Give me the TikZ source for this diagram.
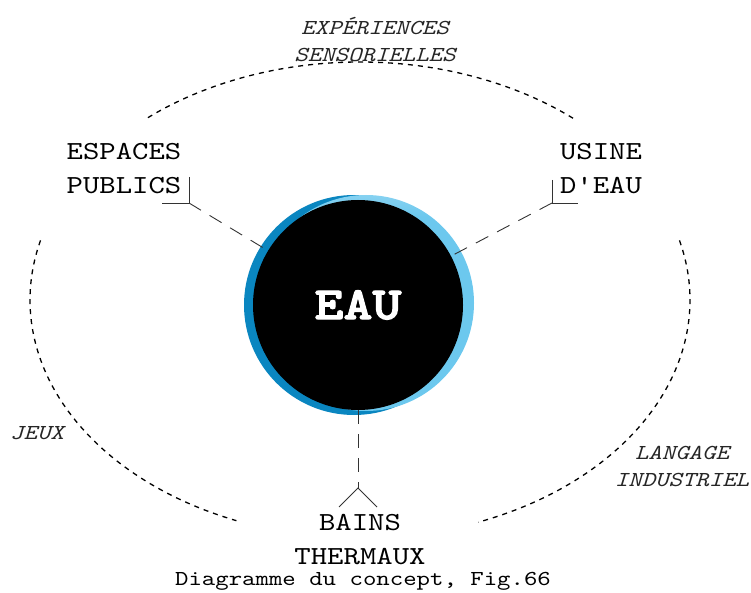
\documentclass[tikz,border=0pt]{standalone}
\usepackage{fontspec}
\newfontfamily\cour{lmmono10-regular}[Extension=.otf, ItalicFont=lmmono10-italic, FakeStretch=1.2]
\newfontfamily\courb{lmmonolt10-bold}[Extension=.otf, FakeStretch=1.2, FakeBold=2.5]
\definecolor{darkblue}{HTML}{0A86C0}
\definecolor{lbtop}{HTML}{D6EFFA}
\definecolor{lbbot}{HTML}{6CC8EE}
\definecolor{conn}{HTML}{333333}
\pgfdeclareverticalshading{lbsh}{100bp}{color(0bp)=(lbbot); color(70bp)=(lbbot); color(90bp)=(lbtop); color(100bp)=(lbtop)}
\tikzset{
  lbl/.style={align=center, inner sep=0, font=\cour\fontsize{26}{34}\selectfont},
  ilbl/.style={align=center, inner sep=0, font=\cour\itshape\fontsize{21.3}{27}\selectfont, text=black!85},
  caplbl/.style={align=center, inner sep=0, font=\cour\fontsize{21.3}{27}\selectfont},
  longdash/.style={draw=conn, line width=0.9pt, dash pattern=on 14pt off 10pt},
  brack/.style={draw=conn, line width=0.9pt},
  dotarc/.style={draw=black, line width=1.3pt, dash pattern=on 5pt off 5pt},
}
\begin{document}
\begin{tikzpicture}[x=1pt, y=-1pt]
\useasboundingbox (0,0) rectangle (751,593);
% dashed ellipse arcs
\draw[dotarc] plot[domain=230:311, samples=80, smooth] ({360+330*cos(\x)},{300+238*sin(\x)});
\draw[dotarc] plot[domain=194.5:112, samples=80, smooth] ({360+330*cos(\x)},{300+238*sin(\x)});
\draw[dotarc] plot[domain=-14.5:69, samples=80, smooth] ({360+330*cos(\x)},{300+238*sin(\x)});
% circles
\fill[darkblue] (354,305) circle[radius=110];
\shade[shading=lbsh] (366,303) circle[radius=108];
\node[circle, fill=black, minimum size=210pt, inner sep=0, text=white,
      font=\courb\fontsize{46}{55}\selectfont] (eau) at (358,305) {EAU};
% labels
\node[ilbl] (exp) at (375,40) {EXPÉRIENCES\\SENSORIELLES};
\node[lbl] (esp) at (124,169) {ESPACES\\PUBLICS};
\node[lbl] (usi) at (601,169) {USINE\\D'EAU};
\node[ilbl] (jeux) at (37,433) {JEUX};
\node[ilbl] (lang) at (682,466) {LANGAGE\\INDUSTRIEL};
\node[lbl] (bai) at (360,540) {BAINS\\THERMAUX};
\node[caplbl] (cap) at (363,581) {Diagramme du concept, Fig.66};
% brackets and connectors
\coordinate (ep) at (189,203);
\coordinate (epT) at (189,177);
\coordinate (epL) at (162,203);
\draw[brack] (epT) -- (ep) -- (epL);
\draw[longdash] (ep) -- (eau);
\coordinate (ue) at (552,203);
\coordinate (ueT) at (552,180);
\coordinate (ueR) at (578,203);
\draw[brack] (ueT) -- (ue) -- (ueR);
\draw[longdash] (ue) -- (eau);
\coordinate (be) at (358,488);
\coordinate (beL) at (339,507);
\coordinate (beR) at (377,507);
\draw[brack] (beL) -- (be) -- (beR);
\draw[longdash] (eau) -- (be);
\end{tikzpicture}
\end{document}
